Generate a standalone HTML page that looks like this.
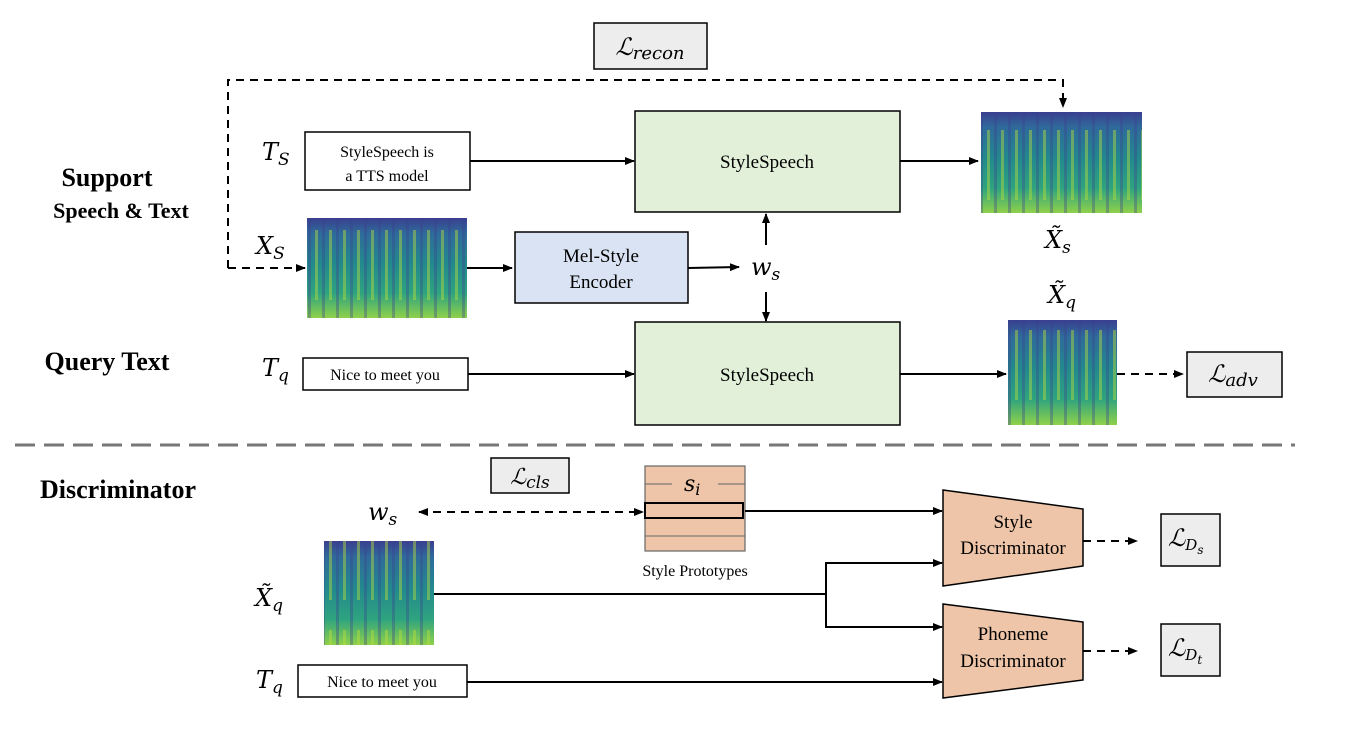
<!DOCTYPE html>
<html><head><meta charset="utf-8"><style>
html,body{margin:0;padding:0;background:#fff;}
svg{display:block;}
text{font-family:"Liberation Serif",serif;fill:#000;}
.m{font-family:"DejaVu Serif","Liberation Serif",serif;font-style:italic;}
</style></head><body>
<svg width="1364" height="733" viewBox="0 0 1364 733" xmlns="http://www.w3.org/2000/svg">
<defs>
<marker id="a" markerWidth="10" markerHeight="8" refX="9" refY="4" orient="auto" markerUnits="userSpaceOnUse"><path d="M0,0 L10,4 L0,8 z" fill="#000"/></marker>
<marker id="b" markerWidth="10" markerHeight="8" refX="1" refY="4" orient="auto" markerUnits="userSpaceOnUse"><path d="M10,0 L0,4 L10,8 z" fill="#000"/></marker>
<linearGradient id="sg" x1="0" y1="0" x2="0" y2="1">
<stop offset="0" stop-color="#3a3f8f"/><stop offset="0.15" stop-color="#2f6a9a"/><stop offset="0.45" stop-color="#23888e"/><stop offset="0.75" stop-color="#2ea37f"/><stop offset="1" stop-color="#8fd14a"/></linearGradient>
<pattern id="st" width="14" height="100" patternUnits="userSpaceOnUse">
<rect x="0" y="0" width="3" height="100" fill="#3a3f8f" opacity="0.35"/>
<rect x="7" y="30" width="3" height="70" fill="#b8de3a" opacity="0.45"/>
</pattern>
</defs>

<text x="107" y="186" font-size="26" font-weight="bold" text-anchor="middle">Support</text>
<text x="121" y="218" font-size="22" font-weight="bold" text-anchor="middle">Speech &amp; Text</text>
<text x="107" y="370" font-size="26" font-weight="bold" text-anchor="middle">Query Text</text>
<text x="118" y="498" font-size="26" font-weight="bold" text-anchor="middle">Discriminator</text>

<rect x="594" y="23" width="113" height="46" fill="#ededed" stroke="#000" stroke-width="1.5"/>
<text x="650" y="55" font-size="24" class="m" text-anchor="middle">ℒ<tspan font-size="18" dy="4">recon</tspan></text>
<path d="M228,268 L228,80 L1063,80 L1063,107" fill="none" stroke="#000" stroke-width="2" stroke-dasharray="8,6" marker-end="url(#a)"/>
<path d="M228,268 L305,268" fill="none" stroke="#000" stroke-width="2" stroke-dasharray="8,6" marker-end="url(#a)"/>

<text x="262" y="160" font-size="24" class="m">T<tspan font-size="17" dy="5">S</tspan></text>
<rect x="305" y="132" width="165" height="58" fill="#fff" stroke="#000" stroke-width="1.5"/>
<text x="387" y="157" font-size="16" text-anchor="middle">StyleSpeech is</text>
<text x="387" y="181" font-size="16" text-anchor="middle">a TTS model</text>
<line x1="470" y1="161" x2="634" y2="161" stroke="#000" stroke-width="2" marker-end="url(#a)"/>

<rect x="635" y="111" width="265" height="101" fill="#e2f0d9" stroke="#000" stroke-width="1.5"/>
<text x="767" y="168" font-size="19" text-anchor="middle">StyleSpeech</text>
<line x1="900" y1="161" x2="978" y2="161" stroke="#000" stroke-width="2" marker-end="url(#a)"/>

<rect x="981" y="112" width="161" height="101" fill="url(#sg)"/>
<rect x="981" y="112" width="161" height="101" fill="url(#st)"/>
<text x="1045" y="248" font-size="24" class="m">X̃<tspan font-size="17" dy="5">s</tspan></text>

<text x="256" y="254" font-size="24" class="m">X<tspan font-size="17" dy="5">S</tspan></text>
<rect x="307" y="218" width="160" height="100" fill="url(#sg)"/>
<rect x="307" y="218" width="160" height="100" fill="url(#st)"/>
<line x1="467" y1="268" x2="512" y2="268" stroke="#000" stroke-width="2" marker-end="url(#a)"/>
<rect x="515" y="232" width="173" height="71" fill="#dae3f3" stroke="#000" stroke-width="1.5"/>
<text x="601" y="262" font-size="19" text-anchor="middle">Mel-Style</text>
<text x="601" y="288" font-size="19" text-anchor="middle">Encoder</text>
<line x1="688" y1="268" x2="739" y2="267" stroke="#000" stroke-width="2" marker-end="url(#a)"/>
<text x="751" y="275" font-size="24" class="m">w<tspan font-size="17" dy="5">s</tspan></text>
<line x1="766" y1="245" x2="766" y2="214" stroke="#000" stroke-width="2" marker-end="url(#a)"/>
<line x1="766" y1="292" x2="766" y2="321" stroke="#000" stroke-width="2" marker-end="url(#a)"/>

<text x="262" y="376" font-size="24" class="m">T<tspan font-size="17" dy="5">q</tspan></text>
<rect x="303" y="358" width="165" height="32" fill="#fff" stroke="#000" stroke-width="1.5"/>
<text x="385" y="380" font-size="16" text-anchor="middle">Nice to meet you</text>
<line x1="468" y1="374" x2="634" y2="374" stroke="#000" stroke-width="2" marker-end="url(#a)"/>
<rect x="635" y="322" width="265" height="103" fill="#e2f0d9" stroke="#000" stroke-width="1.5"/>
<text x="767" y="381" font-size="19" text-anchor="middle">StyleSpeech</text>
<line x1="900" y1="374" x2="1006" y2="374" stroke="#000" stroke-width="2" marker-end="url(#a)"/>
<rect x="1008" y="320" width="109" height="105" fill="url(#sg)"/>
<rect x="1008" y="320" width="109" height="105" fill="url(#st)"/>
<text x="1048" y="303" font-size="24" class="m">X̃<tspan font-size="17" dy="5">q</tspan></text>
<line x1="1117" y1="374" x2="1183" y2="374" stroke="#000" stroke-width="2" stroke-dasharray="8,6" marker-end="url(#a)"/>
<rect x="1187" y="352" width="95" height="45" fill="#ededed" stroke="#000" stroke-width="1.5"/>
<text x="1233" y="382" font-size="24" class="m" text-anchor="middle">ℒ<tspan font-size="18" dy="4">adv</tspan></text>

<line x1="15" y1="445" x2="1295" y2="445" stroke="#777" stroke-width="3" stroke-dasharray="20,9"/>

<rect x="491" y="458" width="78" height="35" fill="#ededed" stroke="#000" stroke-width="1.5"/>
<text x="530" y="484" font-size="22" class="m" text-anchor="middle">ℒ<tspan font-size="17" dy="4">cls</tspan></text>
<text x="368" y="520" font-size="24" class="m">w<tspan font-size="17" dy="5">s</tspan></text>
<line x1="419" y1="512" x2="643" y2="512" stroke="#000" stroke-width="2" stroke-dasharray="8,6" marker-start="url(#b)" marker-end="url(#a)"/>

<rect x="645" y="466" width="100" height="85" fill="#eec5a8" stroke="#666" stroke-width="1.2"/>
<line x1="645" y1="484" x2="672" y2="484" stroke="#666" stroke-width="1"/>
<line x1="718" y1="484" x2="745" y2="484" stroke="#666" stroke-width="1"/>
<text x="684" y="491" font-size="22" class="m">s<tspan font-size="16" dy="4">i</tspan></text>
<rect x="645" y="503" width="98" height="15" fill="#eec5a8" stroke="#000" stroke-width="2"/>
<line x1="645" y1="536" x2="745" y2="536" stroke="#666" stroke-width="1"/>
<text x="695" y="576" font-size="16" text-anchor="middle">Style Prototypes</text>
<line x1="745" y1="511" x2="942" y2="511" stroke="#000" stroke-width="2" marker-end="url(#a)"/>

<text x="255" y="606" font-size="24" class="m">X̃<tspan font-size="17" dy="5">q</tspan></text>
<rect x="324" y="541" width="110" height="104" fill="url(#sg)"/>
<rect x="324" y="541" width="110" height="104" fill="url(#st)"/>
<line x1="434" y1="594" x2="826" y2="594" stroke="#000" stroke-width="2"/>
<path d="M942,563 L826,563 L826,627 L942,627" fill="none" stroke="#000" stroke-width="2"/>
<line x1="900" y1="563" x2="942" y2="563" stroke="#000" stroke-width="2" marker-end="url(#a)"/>
<line x1="900" y1="627" x2="942" y2="627" stroke="#000" stroke-width="2" marker-end="url(#a)"/>

<text x="256" y="688" font-size="24" class="m">T<tspan font-size="17" dy="5">q</tspan></text>
<rect x="298" y="665" width="169" height="32" fill="#fff" stroke="#000" stroke-width="1.5"/>
<text x="382" y="687" font-size="16" text-anchor="middle">Nice to meet you</text>
<line x1="467" y1="682" x2="942" y2="682" stroke="#000" stroke-width="2" marker-end="url(#a)"/>

<polygon points="943,490 1083,509 1083,566 943,586" fill="#eec5a8" stroke="#000" stroke-width="1.5"/>
<text x="1013" y="528" font-size="19" text-anchor="middle">Style</text>
<text x="1013" y="554" font-size="19" text-anchor="middle">Discriminator</text>
<polygon points="943,604 1083,622 1083,680 943,698" fill="#eec5a8" stroke="#000" stroke-width="1.5"/>
<text x="1013" y="640" font-size="19" text-anchor="middle">Phoneme</text>
<text x="1013" y="667" font-size="19" text-anchor="middle">Discriminator</text>

<line x1="1083" y1="541" x2="1137" y2="541" stroke="#000" stroke-width="2" stroke-dasharray="8,6" marker-end="url(#a)"/>
<line x1="1083" y1="651" x2="1137" y2="651" stroke="#000" stroke-width="2" stroke-dasharray="8,6" marker-end="url(#a)"/>
<rect x="1161" y="514" width="59" height="52" fill="#ededed" stroke="#000" stroke-width="1.5"/>
<text x="1168" y="546" font-size="24" class="m">ℒ<tspan font-size="15" dy="4">D</tspan><tspan font-size="12" dy="4">s</tspan></text>
<rect x="1161" y="624" width="59" height="52" fill="#ededed" stroke="#000" stroke-width="1.5"/>
<text x="1168" y="656" font-size="24" class="m">ℒ<tspan font-size="15" dy="4">D</tspan><tspan font-size="12" dy="4">t</tspan></text>
</svg>
</body></html>
